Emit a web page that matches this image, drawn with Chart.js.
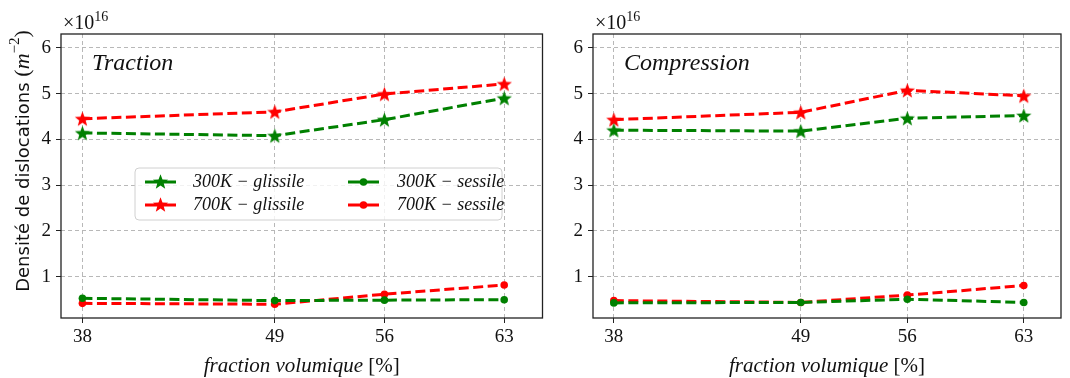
<!DOCTYPE html>
<html>
<head>
<meta charset="utf-8">
<script src="https://cdn.jsdelivr.net/npm/chart.js@4.4.1/dist/chart.umd.min.js"></script>
<style>
  body { margin: 0; background: #fff; }
  #left { position: absolute; left: 0; top: 0; }
  #right { position: absolute; left: 550px; top: 0; }
</style>
</head>
<body>
<canvas id="left" width="550" height="378"></canvas>
<canvas id="right" width="520" height="378"></canvas>
<script>
// valeurs (unité 1e16 m^-2)
// positions réelles des fractions, étiquettes arrondies
const fractions = [38, 49.4, 55.9, 63];
const fractionLabels = ['38', '49', '56', '63'];
const yTicks = [1, 2, 3, 4, 5, 6];

const tractionGlissile300 = [4.14, 4.08, 4.43, 4.90];
const tractionGlissile700 = [4.45, 4.60, 4.99, 5.21];
const tractionSessile300 = [0.53, 0.48, 0.49, 0.50];
const tractionSessile700 = [0.42, 0.40, 0.62, 0.82];

const compressionGlissile300 = [4.20, 4.18, 4.46, 4.52];
const compressionGlissile700 = [4.43, 4.59, 5.07, 4.95];
const compressionSessile300 = [0.43, 0.44, 0.51, 0.44];
const compressionSessile700 = [0.48, 0.44, 0.60, 0.81];

const GREEN = '#008000';
const RED = '#ff0000';
const SERIF = '"Liberation Serif", "DejaVu Serif", serif';
const SANS = '"DejaVu Sans", sans-serif';

// étoile pleine façon matplotlib
function makeStar(color) {
    const c = document.createElement('canvas');
    c.width = 17; c.height = 17;
    const ctx = c.getContext('2d');
    ctx.beginPath();
    for (let i = 0; i < 10; i++) {
        const r = i % 2 === 0 ? 8 : 3.4;
        const a = -Math.PI / 2 + i * Math.PI / 5;
        const x = 8.5 + r * Math.cos(a), y = 9.2 + r * Math.sin(a);
        if (i === 0) ctx.moveTo(x, y); else ctx.lineTo(x, y);
    }
    ctx.closePath();
    ctx.fillStyle = color;
    ctx.fill();
    return c;
}
const starGreen = makeStar(GREEN);
const starRed = makeStar(RED);

function series(label, values, color, marker) {
    return {
        label: label,
        data: fractions.map((f, i) => ({ x: f, y: values[i] })),
        borderColor: color,
        backgroundColor: color,
        borderWidth: 3,
        borderDash: [10, 4.5],
        pointStyle: marker === 'star' ? (color === GREEN ? starGreen : starRed) : 'circle',
        pointRadius: marker === 'star' ? 7.5 : 3.8,
        pointBorderWidth: 0,
        tension: 0
    };
}

// dessine des morceaux de texte de polices différentes à la suite
function drawRuns(ctx, runs, x, y) {
    runs.forEach(r => {
        ctx.font = r.font;
        ctx.fillText(r.text, x, y + (r.dy || 0));
        x += ctx.measureText(r.text).width;
    });
}
function runsWidth(ctx, runs) {
    let w = 0;
    runs.forEach(r => { ctx.font = r.font; w += ctx.measureText(r.text).width; });
    return w;
}

// cadre, titres d'axes, titre du panneau, facteur x10^16, légende
const decorPlugin = {
    id: 'decor',
    afterDraw(chart, args, opts) {
        const ctx = chart.ctx;
        const a = chart.chartArea;
        ctx.save();
        ctx.strokeStyle = '#222';
        ctx.lineWidth = 1.3;
        ctx.strokeRect(a.left, a.top, a.right - a.left, a.bottom - a.top);

        ctx.fillStyle = '#111';
        ctx.textBaseline = 'alphabetic';
        ctx.textAlign = 'left';
        ctx.font = 'italic 24px ' + SERIF;
        ctx.fillText(opts.panel, a.left + 31, 70);

        drawRuns(ctx, [
            { text: '\u00d710', font: '20px ' + SERIF },
            { text: '16', font: '14px ' + SERIF, dy: -8 }
        ], a.left + 2, 29);

        // titre de l'axe x
        const xRuns = [
            { text: 'fraction volumique ', font: 'italic 21px ' + SERIF },
            { text: '[%]', font: '21px ' + SERIF }
        ];
        const xw = runsWidth(ctx, xRuns);
        drawRuns(ctx, xRuns, (a.left + a.right) / 2 - xw / 2, 372);

        // titre de l'axe y
        if (opts.yTitle) {
            const yRuns = [
                { text: 'Densit\u00e9 de dislocations ', font: '18px ' + SANS },
                { text: '(', font: '22px ' + SERIF },
                { text: 'm', font: 'italic 22px ' + SERIF },
                { text: '\u22122', font: '15px ' + SERIF, dy: -10 },
                { text: ')', font: '22px ' + SERIF }
            ];
            const yw = runsWidth(ctx, yRuns);
            ctx.translate(29, 161);
            ctx.rotate(-Math.PI / 2);
            drawRuns(ctx, yRuns, -yw / 2, 0);
            ctx.setTransform(1, 0, 0, 1, 0, 0);
        }

        if (opts.legend) {
            const x0 = 135, y0 = 168, x1 = 502, y1 = 220;
            ctx.beginPath();
            ctx.roundRect(x0, y0, x1 - x0, y1 - y0, 4);
            ctx.fillStyle = 'rgba(255,255,255,0.8)';
            ctx.fill();
            ctx.strokeStyle = '#d0d0d0';
            ctx.lineWidth = 1;
            ctx.stroke();

            const cols = [[145, 193], [348, 397]];
            const rows = [182, 205];
            chart.data.datasets.forEach((ds, i) => {
                const col = cols[Math.floor(i / 2)];
                const y = rows[i % 2];
                ctx.strokeStyle = ds.borderColor;
                ctx.lineWidth = 3;
                ctx.setLineDash([]);
                ctx.beginPath();
                ctx.moveTo(col[0], y);
                ctx.lineTo(col[0] + 31, y);
                ctx.stroke();
                const mx = col[0] + 15.5;
                if (typeof ds.pointStyle === 'string') {
                    ctx.fillStyle = ds.borderColor;
                    ctx.beginPath();
                    ctx.arc(mx, y, 3.8, 0, Math.PI * 2);
                    ctx.fill();
                } else {
                    ctx.drawImage(ds.pointStyle, mx - 8.5, y - 9);
                }
                ctx.fillStyle = '#111';
                ctx.font = 'italic 18px ' + SERIF;
                ctx.textAlign = 'left';
                ctx.textBaseline = 'middle';
                ctx.fillText(ds.label, col[1], y);
            });
        }
        ctx.restore();
    }
};

function makeChart(id, panel, data, axisWidth, padRight, withLegend, withYTitle) {
    return new Chart(document.getElementById(id), {
        type: 'line',
        data: {
            datasets: [
                series('300K \u2212 glissile', data[0], GREEN, 'star'),
                series('700K \u2212 glissile', data[1], RED, 'star'),
                series('300K \u2212 sessile', data[2], GREEN, 'circle'),
                series('700K \u2212 sessile', data[3], RED, 'circle')
            ]
        },
        options: {
            responsive: false,
            animation: false,
            events: [],
            layout: { padding: { top: 34, right: padRight, left: 0, bottom: 0 } },
            plugins: {
                legend: { display: false },
                tooltip: { enabled: false },
                decor: { panel: panel, legend: withLegend, yTitle: withYTitle }
            },
            scales: {
                x: {
                    type: 'linear',
                    min: 36.73,
                    max: 65.27,
                    afterBuildTicks: s => { s.ticks = fractions.map(v => ({ value: v })); },
                    afterFit: s => { s.height = 60; },
                    border: { display: false, dash: [4, 3] },
                    grid: { color: '#b8b8b8', lineWidth: 1, tickLength: 5, tickColor: '#222', tickBorderDash: [] },
                    ticks: {
                        color: '#111',
                        font: { family: SERIF, size: 19 },
                        padding: 3,
                        maxRotation: 0,
                        callback: v => fractionLabels[fractions.indexOf(v)]
                    }
                },
                y: {
                    min: 0.1,
                    max: 6.3,
                    afterBuildTicks: s => { s.ticks = yTicks.map(v => ({ value: v })); },
                    afterFit: s => { s.width = axisWidth; },
                    border: { display: false, dash: [4, 3] },
                    grid: { color: '#b8b8b8', lineWidth: 1, tickLength: 5, tickColor: '#222', tickBorderDash: [] },
                    ticks: { color: '#111', font: { family: SERIF, size: 19 }, padding: 5 }
                }
            }
        },
        plugins: [decorPlugin]
    });
}

makeChart('left', 'Traction',
    [tractionGlissile300, tractionGlissile700, tractionSessile300, tractionSessile700],
    61, 3, true, true);
makeChart('right', 'Compression',
    [compressionGlissile300, compressionGlissile700, compressionSessile300, compressionSessile700],
    43, 9, false, false);
</script>
</body>
</html>
